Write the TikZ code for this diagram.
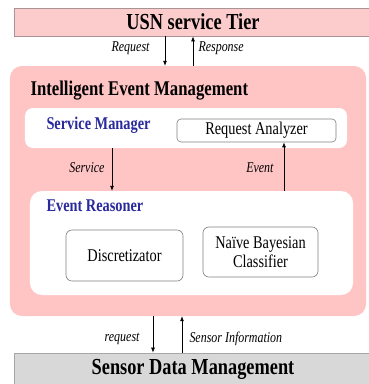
\documentclass[tikz,border=0pt]{standalone}
\usepackage{fontspec}
\setmainfont{Liberation Serif}
\usepackage{tikz}
\usetikzlibrary{positioning, calc, arrows.meta}
\definecolor{tierpink}{HTML}{FCCBCB}
\definecolor{tierborder}{HTML}{A89494}
\definecolor{iempink}{HTML}{FFC4C4}
\definecolor{sdmgray}{HTML}{D8D8D8}
\definecolor{sdmborder}{HTML}{A6A6A6}
\definecolor{titleblue}{HTML}{2A2A9C}
\newcommand{\narrow}[1]{\scalebox{0.8}[1]{#1}}
\tikzset{
	tiernode/.style={
			shape=rectangle,
			draw=tierborder,
			fill=tierpink,
			line width=0.8pt,
			inner sep=0pt
		},
	groupnode/.style={
			shape=rectangle,
			rounded corners=12pt,
			draw=none,
			inner sep=0pt
		},
	modulenode/.style={
			shape=rectangle,
			rounded corners=6pt,
			draw=gray,
			fill=white,
			line width=0.6pt,
			align=center,
			inner sep=0pt,
			font=\fontsize{18}{19}\selectfont
		}
}
\tikzset{
	bigtext/.style={font=\fontsize{23}{25}\selectfont\bfseries},
	headtext/.style={font=\fontsize{21}{23}\selectfont\bfseries},
	bluetext/.style={font=\fontsize{18}{20}\selectfont\bfseries\color{titleblue}},
	flowtext/.style={font=\fontsize{15}{16}\selectfont\itshape}
}
\tikzset{
	flow/.style={-{Latex[length=5pt,width=4pt]}, line width=0.7pt}
}
\begin{document}
\begin{tikzpicture}[x=1bp, y=-1bp]
			\useasboundingbox (0,0) rectangle (369,384);
			\clip (0,0) rectangle (369,384);

			% outer tiers
			\node[tiernode, minimum width=358bp, minimum height=28bp] (tier) at (193,22) {};
			\node[bigtext] at (193,22) {\narrow{USN service Tier}};
			\node[tiernode, draw=sdmborder, fill=sdmgray, minimum width=358bp, minimum height=40bp] (sdm) at (193,373) {};
			\node[bigtext] at (193,369) {\narrow{Sensor Data Management}};

			% event management blocks
			\node[groupnode, fill=iempink, minimum width=356bp, minimum height=250bp] (iem) at (188,191) {};
			\node[headtext, anchor=base west] at (27,95) {\narrow{Intelligent Event Management}};

			\node[groupnode, fill=white, rounded corners=8pt, minimum width=322bp, minimum height=40bp] (sm) at (186,128) {};
			\node[bluetext, anchor=base west] at (43,129) {\narrow{Service Manager}};
			\node[modulenode, rounded corners=4pt, minimum width=159bp, minimum height=23bp] (ra) at (256.5,130.5) {\narrow{Request Analyzer}};

			\node[groupnode, fill=white, minimum width=323bp, minimum height=104bp] (er) at (191.5,243) {};
			\node[bluetext, anchor=base west] at (43,211) {\narrow{Event Reasoner}};
			\node[modulenode, minimum width=117bp, minimum height=51bp] (disc) at (124.5,255.5) {\narrow{Discretizator}};
			\node[modulenode, minimum width=115bp, minimum height=50bp] (nbc) at (260.5,252) {\narrow{Na\"{\i}ve Bayesian}\\\narrow{Classifier}};

			% arrow columns
			\coordinate (reqx) at (165,0);
			\coordinate (resx) at (193,0);
			\coordinate (svcx) at (112,0);
			\coordinate (evtx) at (284,0);
			\coordinate (lreqx) at (153,0);
			\coordinate (sinfx) at (182,0);

			\draw[flow] (tier.south -| reqx) -- (iem.north -| reqx);
			\draw[flow] (iem.north -| resx) -- (tier.south -| resx);
			\draw[flow] (sm.south -| svcx) -- (er.north -| svcx);
			\draw[flow] (er.north -| evtx) -- (ra.south -| evtx);
			\draw[flow] (iem.south -| lreqx) -- (sdm.north -| lreqx);
			\draw[flow] (sdm.north -| sinfx) -- (iem.south -| sinfx);

			\node[flowtext, anchor=east] at (153,48) {\narrow{Request}};
			\node[flowtext, anchor=west] at (195,48) {\narrow{Response}};
			\node[flowtext, anchor=east] at (108,168) {\narrow{Service}};
			\node[flowtext, anchor=east] at (277,168) {\narrow{Event}};
			\node[flowtext, anchor=east] at (143,339) {\narrow{request}};
			\node[flowtext, anchor=west] at (186,339) {\narrow{Sensor Information}};

		\end{tikzpicture}
\end{document}
